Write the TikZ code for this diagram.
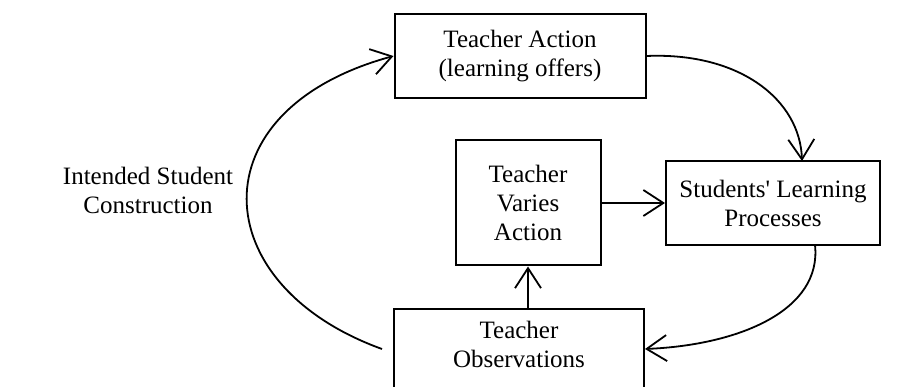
\documentclass[tikz,border=0pt]{standalone}
\usepackage{fontspec}
\setmainfont{Liberation Serif}
\usetikzlibrary{arrows.meta}

\begin{document}
\begin{tikzpicture}[x=1pt,y=-1pt,
	box/.style={draw,line width=2pt,align=center,inner sep=0pt},
	flow/.style={line width=1.8pt,-{Straight Barb[length=20pt,width=26pt,line width=1.8pt]}},
	font=\fontsize{25}{29}\selectfont]
	\useasboundingbox (0,0) rectangle (903,387);
	% Boxes
	\node[box,minimum width=251pt,minimum height=84pt] (act) at (520,56) {Teacher Action\\(learning offers)};
	\node[box,minimum width=145pt,minimum height=125pt] (vary) at (528,203) {Teacher\\Varies\\Action};
	\node[box,minimum width=214pt,minimum height=84pt] (learn) at (773,203) {Students\textquotesingle{} Learning\\Processes};
	\node[box,anchor=north,minimum width=250pt,inner ysep=12pt,text depth=60pt] (obs) at (519,308) {Teacher\\Observations};
	% Loop label
	\node[align=center] (intent) at (148,190) {Intended Student\\Construction};
	% Arrows
	\coordinate (loopstart) at (382,349);
	\draw[flow] (loopstart) .. controls (205,285) and (195,110) .. (act.west);
	\draw[flow] (act.east) .. controls (740,52) and (800,100) .. (802,161);
	\draw[flow] (815,245) .. controls (822,310) and (740,345) .. (obs.east |- 0,349);
	\draw[flow] (vary.east) -- (learn.west);
	\draw[flow] (vary.south |- obs.north) -- (vary.south);
\end{tikzpicture}
\end{document}
